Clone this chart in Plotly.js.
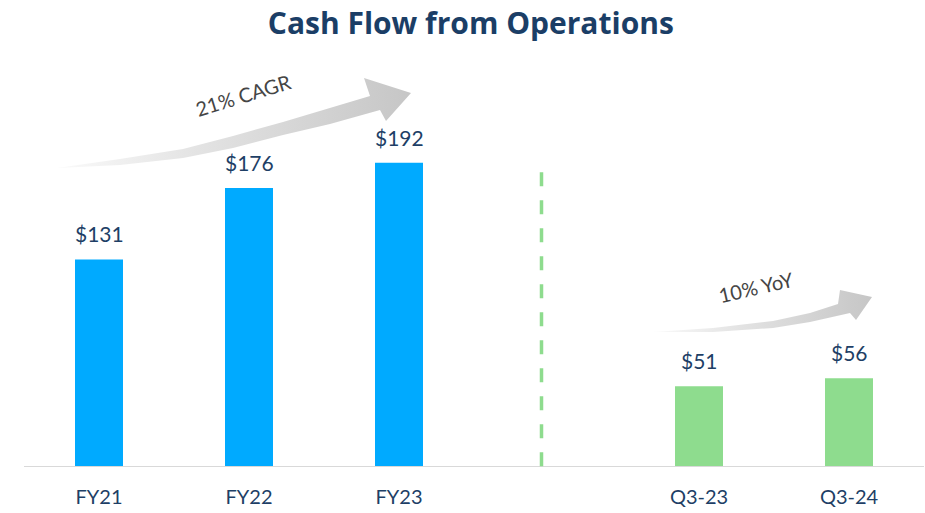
<!DOCTYPE html>
<html>
<head>
<meta charset="utf-8">
<script src="https://cdn.plot.ly/plotly-3.0.1.min.js"></script>
<style>html,body{margin:0;padding:0;background:#fff;}#chart{width:925px;height:513px;}</style>
</head>
<body>
<div id="chart"></div>
<script>
// Data
const annualCategories = ["FY21", "FY22", "FY23"];
const annualValues = [131, 176, 192];
const quarterCategories = ["Q3-23", "Q3-24"];
const quarterValues = [51, 56];
const categoryOrder = ["FY21", "FY22", "FY23", " ", "Q3-23", "Q3-24"];
const cagrLabel = "21% CAGR";
const yoyLabel = "10% YoY";

const labelColor = "#1E3F66";
const font = "Lato, 'Open Sans', sans-serif";

function fmt(v) { return "$" + v; }

// Decorative arrows drawn on a hidden overlay axis that spans the plot area (pixel-like units)
const arrow1 = {
  x: [57, 120, 183, 233, 283, 330, 370, 364, 411, 386, 380, 330, 283, 233, 183, 120, 57],
  y: [168, 159, 149, 136, 122, 108, 96, 78, 93, 121, 110, 124, 135, 148, 158, 165, 168]
};
const arrow2 = {
  x: [653, 713, 773, 810, 838, 840, 872, 856, 850, 810, 773, 713, 653],
  y: [332, 328, 321, 313, 304, 290, 297, 320, 313, 322, 328, 332, 332]
};

const grad = {type: "horizontal", colorscale: [[0, "#FAFAFA"], [0.4, "#E3E3E3"], [1, "#C6C6C6"]]};

const dataLabels = [];
annualCategories.forEach((c, i) => dataLabels.push({x: c, y: annualValues[i], text: fmt(annualValues[i])}));
quarterCategories.forEach((c, i) => dataLabels.push({x: c, y: quarterValues[i], text: fmt(quarterValues[i])}));

const traces = [
  {
    type: "bar", x: annualCategories, y: annualValues,
    marker: {color: "#00AAFF"}, width: 0.32,
    hoverinfo: "skip", showlegend: false
  },
  {
    type: "bar", x: quarterCategories, y: quarterValues,
    marker: {color: "#8EDC8E"}, width: 0.32,
    hoverinfo: "skip", showlegend: false
  },
  {
    type: "scatter", mode: "lines", xaxis: "x2", yaxis: "y2",
    x: arrow1.x, y: arrow1.y, fill: "toself", line: {width: 0},
    fillgradient: grad, hoverinfo: "skip", showlegend: false
  },
  {
    type: "scatter", mode: "lines", xaxis: "x2", yaxis: "y2",
    x: arrow2.x, y: arrow2.y, fill: "toself", line: {width: 0},
    fillgradient: grad, hoverinfo: "skip", showlegend: false
  }
];

const annotations = dataLabels.map(d => ({
  xref: "x", yref: "y", x: d.x, y: d.y, text: d.text, showarrow: false,
  yanchor: "bottom", yshift: 11,
  font: {family: font, size: 21, color: labelColor}
}));
annotations.push(
  {xref: "x2", yref: "y2", x: 243, y: 95, text: cagrLabel, showarrow: false, textangle: -17,
   font: {family: font, size: 20, color: "#454545"}},
  {xref: "x2", yref: "y2", x: 756, y: 287, text: yoyLabel, showarrow: false, textangle: -13,
   font: {family: font, size: 20, color: "#454545"}}
);

const layout = {
  width: 925, height: 513,
  margin: {l: 24, r: 1, t: 55, b: 46},
  paper_bgcolor: "#fff", plot_bgcolor: "#fff",
  title: {text: "<b>Cash Flow from Operations</b>", x: 0.509, xanchor: "center", y: 0.955, yanchor: "middle",
          font: {family: "'Open Sans', sans-serif", size: 30, color: "#1B3E66"}},
  xaxis: {
    type: "category", categoryorder: "array", categoryarray: categoryOrder,
    range: [-0.5, 5.5], showgrid: false, zeroline: false,
    showline: false, ticks: "", ticklabelstandoff: 16,
    tickfont: {family: font, size: 20, color: labelColor},
    fixedrange: true
  },
  yaxis: {
    range: [0, 260], visible: false, showgrid: false, zeroline: false, fixedrange: true
  },
  xaxis2: {overlaying: "x", anchor: "y2", range: [24, 924], visible: false, fixedrange: true},
  yaxis2: {overlaying: "y", anchor: "x2", range: [467, 55], visible: false, fixedrange: true},
  shapes: [
    {type: "line", xref: "paper", yref: "y", x0: 0, x1: 1, y0: 0, y1: 0,
     line: {color: "#D9D9D9", width: 2}},
    {type: "line", xref: "x", yref: "y", x0: 2.95, x1: 2.95, y0: 0.5, y1: 189,
     line: {color: "#8EDC8E", width: 3.5, dash: "14px,14px"}}
  ],
  annotations: annotations
};

Plotly.newPlot("chart", traces, layout, {displayModeBar: false, staticPlot: true});
</script>
</body>
</html>
